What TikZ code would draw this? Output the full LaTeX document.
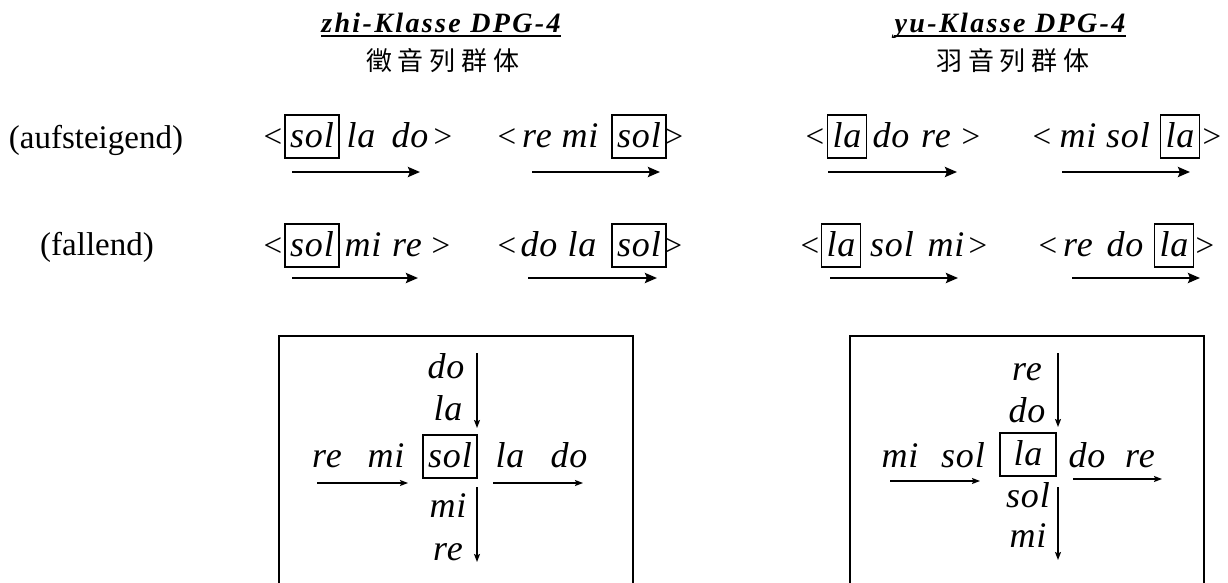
\documentclass[tikz,border=0pt]{standalone}
\usepackage{fontspec}
\setmainfont{Liberation Serif}
\newfontfamily\cjk[LetterSpace=23]{Noto Sans CJK SC}
\newfontfamily\ttlfont[LetterSpace=8.5]{Liberation Serif}
\newfontfamily\ntfont[LetterSpace=2.5]{Liberation Serif}
\usetikzlibrary{arrows.meta}
\begin{document}
\begin{tikzpicture}[x=1pt,y=-1pt,
  lbl/.style={font=\fontsize{33}{40}\selectfont, anchor=base, inner sep=0pt},
  sym/.style={font=\fontsize{33}{40}\selectfont, anchor=base, inner sep=0pt},
  nt/.style={font=\fontsize{36}{44}\selectfont\ntfont\itshape, anchor=base, inner sep=0pt},
  bx/.style={font=\fontsize{36}{44}\selectfont\ntfont\itshape, anchor=base, draw, line width=1.6pt,
     text height=28pt, text depth=7pt, inner ysep=4pt, inner xsep=5pt},
  ttl/.style={font=\fontsize{28}{34}\selectfont\ttlfont\bfseries\itshape, anchor=base, inner sep=0pt},
  cn/.style={font=\fontsize{26}{32}\selectfont\cjk, inner sep=0pt},
  arr/.style={line width=2.6pt, -{Stealth[length=12pt,width=10pt,inset=2pt]}},
  tarr/.style={line width=1.3pt, -{Stealth[length=8pt,width=6pt,inset=1.5pt]}},
  frame/.style={line width=1.8pt}]
\useasboundingbox (0,0) rectangle (1228,583);
\fill[white] (0,0) rectangle (1228,583);

% titles
\node[ttl] (t1) at (441,33) {zhi-Klasse DPG-4};
\draw[line width=1.8pt] ([yshift=-3pt]t1.base west) -- ([yshift=-3pt]t1.base east);
\node[cn] (c1) at (443,61) {徵音列群体};
\node[ttl] (t2) at (1010,33) {yu-Klasse DPG-4};
\draw[line width=1.8pt] ([yshift=-3pt]t2.base west) -- ([yshift=-3pt]t2.base east);
\node[cn] (c2) at (1013,61) {羽音列群体};

% row labels
\node[lbl] (l1) at (96,148) {(aufsteigend)};
\node[lbl] (l2) at (97,255) {(fallend)};

% row 1, zhi
\node[sym] (a1) at (273,147) {<};
\node[bx]  (a2) at (312,147) {sol};
\node[nt]  (a3) at (361,147) {la};
\node[nt]  (a4) at (410,147) {do};
\node[sym] (a5) at (443,147) {>};
\coordinate (as) at (292,172); \coordinate (ae) at (420,172);
\draw[arr] (as) -- (ae);

\node[sym] (b1) at (507,147) {<};
\node[nt]  (b2) at (537,147) {re};
\node[nt]  (b3) at (580,147) {mi};
\node[bx]  (b4) at (639,147) {sol};
\node[sym] (b5) at (674,147) {>};
\coordinate (bs) at (532,172); \coordinate (be) at (660,172);
\draw[arr] (bs) -- (be);

% row 1, yu
\node[sym] (c1a) at (815,147) {<};
\node[bx]  (c1b) at (847,147) {la};
\node[nt]  (c1c) at (891,147) {do};
\node[nt]  (c1d) at (936,147) {re};
\node[sym] (c1e) at (971,147) {>};
\coordinate (cs) at (828,172); \coordinate (ce) at (957,172);
\draw[arr] (cs) -- (ce);

\node[sym] (d1) at (1042,147) {<};
\node[nt]  (d2) at (1078,147) {mi};
\node[nt]  (d3) at (1128,147) {sol};
\node[bx]  (d4) at (1180,147) {la};
\node[sym] (d5) at (1212,147) {>};
\coordinate (ds) at (1062,172); \coordinate (de) at (1190,172);
\draw[arr] (ds) -- (de);

% row 2, zhi
\node[sym] (e1) at (273,256) {<};
\node[bx]  (e2) at (312,256) {sol};
\node[nt]  (e3) at (363,256) {mi};
\node[nt]  (e4) at (407,256) {re};
\node[sym] (e5) at (441,256) {>};
\coordinate (es) at (292,278); \coordinate (ee) at (418,278);
\draw[arr] (es) -- (ee);

\node[sym] (f1) at (507,256) {<};
\node[nt]  (f2) at (539,256) {do};
\node[nt]  (f3) at (582,256) {la};
\node[bx]  (f4) at (639,256) {sol};
\node[sym] (f5) at (673,256) {>};
\coordinate (fs) at (528,278); \coordinate (fe) at (657,278);
\draw[arr] (fs) -- (fe);

% row 2, yu
\node[sym] (g1) at (810,256) {<};
\node[bx]  (g2) at (841,256) {la};
\node[nt]  (g3) at (892,256) {sol};
\node[nt]  (g4) at (946,256) {mi};
\node[sym] (g5) at (978,256) {>};
\coordinate (gs) at (830,278); \coordinate (ge) at (958,278);
\draw[arr] (gs) -- (ge);

\node[sym] (h1) at (1048,256) {<};
\node[nt]  (h2) at (1078,256) {re};
\node[nt]  (h3) at (1125,256) {do};
\node[bx]  (h4) at (1174,256) {la};
\node[sym] (h5) at (1205,256) {>};
\coordinate (hs) at (1072,278); \coordinate (he) at (1200,278);
\draw[arr] (hs) -- (he);

% bottom left frame
\draw[frame] (279,585) -- (279,336) -- (633,336) -- (633,585);
\node[nt] (p1) at (327,467) {re};
\node[nt] (p2) at (386,467) {mi};
\node[bx, minimum width=54pt] (p3) at (450,467) {sol};
\node[nt] (p4) at (510,467) {la};
\node[nt] (p5) at (569,467) {do};
\node[nt] (p6) at (446,378) {do};
\node[nt] (p7) at (448,420) {la};
\node[nt] (p8) at (448,517) {mi};
\node[nt] (p9) at (448,560) {re};
\coordinate (pv1) at (477,353); \coordinate (pv2) at (477,428);
\coordinate (pv3) at (477,487); \coordinate (pv4) at (477,562);
\coordinate (ph1) at (317,483); \coordinate (ph2) at (408,483);
\coordinate (ph3) at (493,483); \coordinate (ph4) at (583,483);
\draw[tarr] (pv1) -- (pv2);
\draw[tarr] (pv3) -- (pv4);
\draw[tarr] (ph1) -- (ph2);
\draw[tarr] (ph3) -- (ph4);

% bottom right frame
\draw[frame] (850,585) -- (850,336) -- (1204,336) -- (1204,585);
\node[nt] (q1) at (900,467) {mi};
\node[nt] (q2) at (963,467) {sol};
\node[bx, minimum width=56pt] (q3) at (1028,465) {la};
\node[nt] (q4) at (1087,467) {do};
\node[nt] (q5) at (1140,467) {re};
\node[nt] (q6) at (1027,380) {re};
\node[nt] (q7) at (1027,422) {do};
\node[nt] (q8) at (1028,507) {sol};
\node[nt] (q9) at (1028,547) {mi};
\coordinate (qv1) at (1058,353); \coordinate (qv2) at (1058,427);
\coordinate (qv3) at (1058,487); \coordinate (qv4) at (1058,560);
\coordinate (qh1) at (890,481); \coordinate (qh2) at (980,481);
\coordinate (qh3) at (1073,479); \coordinate (qh4) at (1162,479);
\draw[tarr] (qv1) -- (qv2);
\draw[tarr] (qv3) -- (qv4);
\draw[tarr] (qh1) -- (qh2);
\draw[tarr] (qh3) -- (qh4);
\end{tikzpicture}
\end{document}
